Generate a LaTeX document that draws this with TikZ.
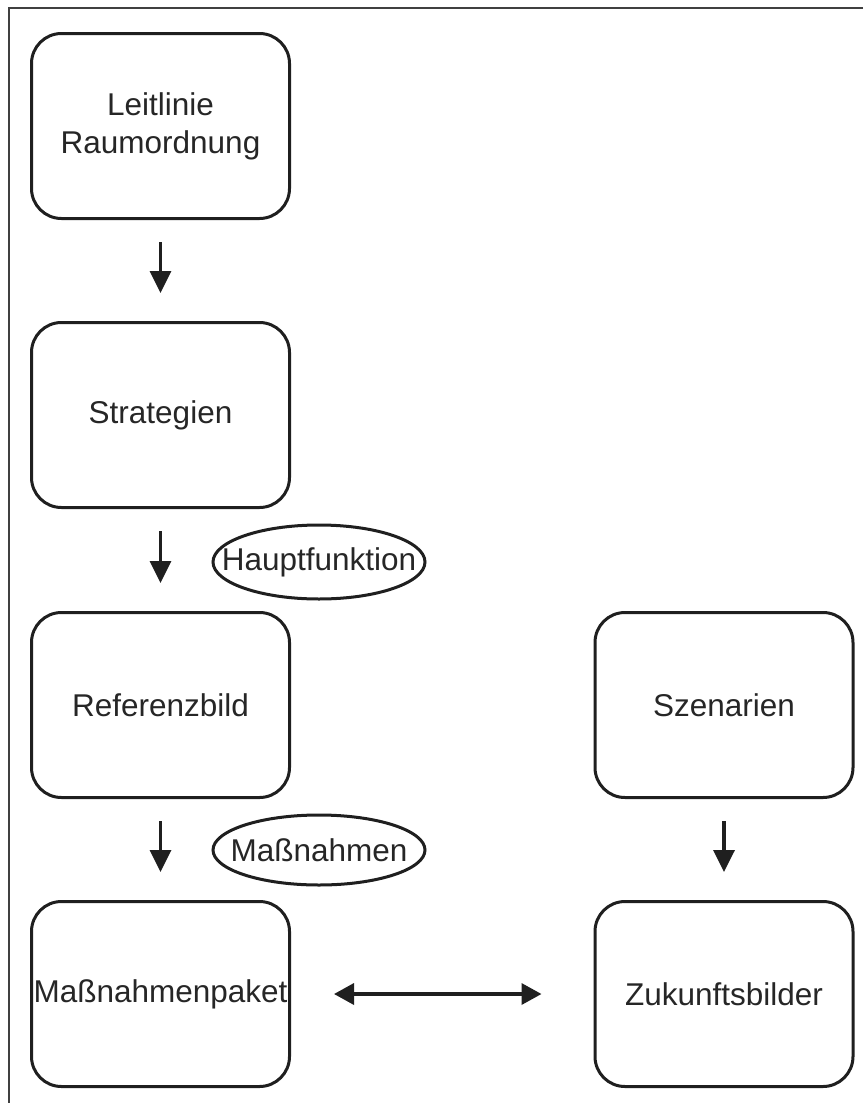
\documentclass[tikz,border=0pt]{standalone}
\usepackage{fontspec}
\setmainfont{Liberation Sans}
\usetikzlibrary{shapes.geometric,arrows.meta}
\begin{document}
\begin{tikzpicture}[x=1pt,y=-1pt,
  box/.style={draw=black!88,line width=3pt,rounded corners=30pt,minimum width=258pt,minimum height=185pt,inner sep=0pt,align=center,font=\fontsize{31.5}{38}\selectfont,text=black!85},
  tag/.style={inner sep=0pt,font=\fontsize{31.5}{38}\selectfont,text=black!85},
  oval/.style={draw=black!88,line width=3pt},
  arr/.style={line width=3.5pt,draw=black!88,-{Triangle[length=22pt,width=21pt]},shorten <=22pt,shorten >=28pt},
  darr/.style={line width=3.5pt,draw=black!88,{Triangle[length=20pt,width=21pt]}-{Triangle[length=20pt,width=21pt]},shorten <=43pt,shorten >=52pt},
  frame/.style={line width=1.5pt,draw=black!75}]
\useasboundingbox (0,0) rectangle (863,1103);
\coordinate (tl) at (9,8);
\coordinate (tr) at (863,8);
\coordinate (bl) at (9,1103);
\draw[frame] (tr) -- (tl) -- (bl);
\node[box] (b1) at (160.5,126) {Leitlinie\\Raumordnung};
\node[box] (b2) at (160.5,415) {Strategien};
\node[box] (b3) at (160.5,705) {Referenzbild};
\node[box] (b4) at (160.5,994) {Maßnahmenpaket};
\node[box] (s1) at (724,705) {Szenarien};
\node[box] (s2) at (724,994) {Zukunftsbilder};
\node[tag] (e1) at (319,562) {Hauptfunktion};
\node[tag] (e2) at (319,850) {Maßnahmen};
\draw[oval] (e1.center) ellipse [x radius=106, y radius=37];
\draw[oval] (e2.center) ellipse [x radius=106, y radius=35];
\draw[arr] (b1.south) -- (b2.north);
\draw[arr] (b2.south) -- (b3.north);
\draw[arr] (b3.south) -- (b4.north);
\draw[arr] (s1.south) -- (s2.north);
\draw[darr] (b4.east) -- (s2.west);
\end{tikzpicture}
\end{document}
